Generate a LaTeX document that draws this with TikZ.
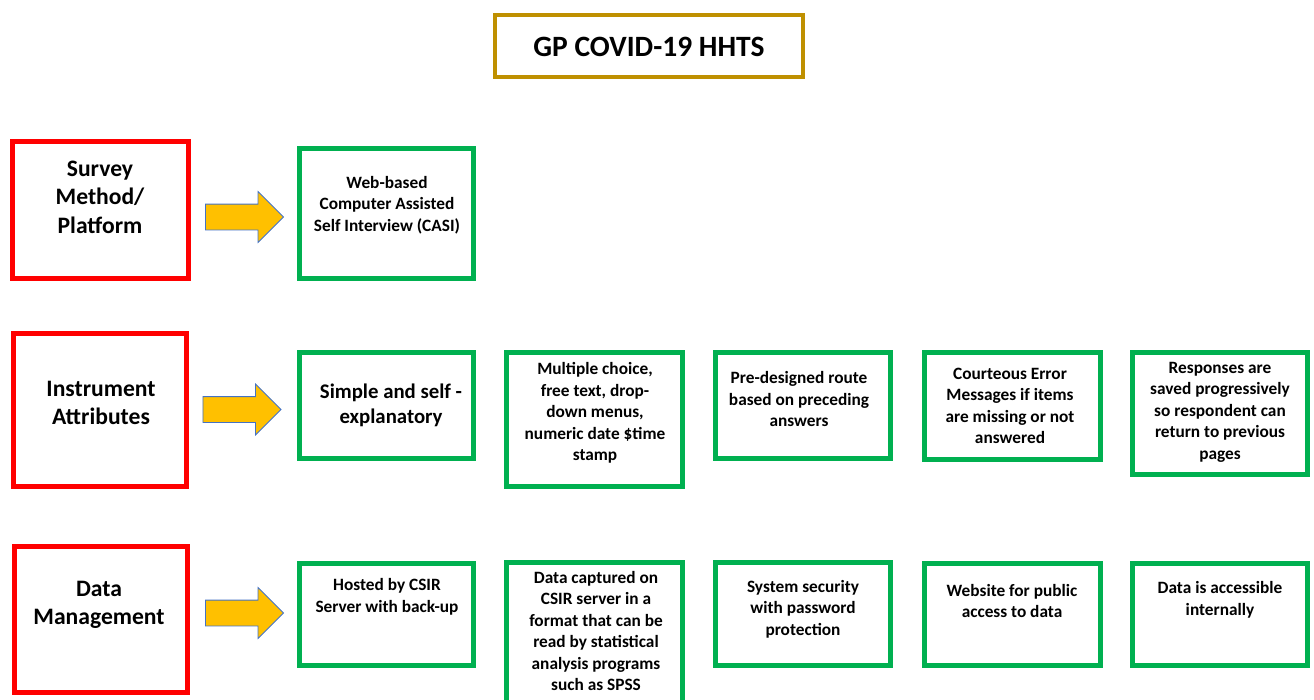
\documentclass[tikz,border=0pt]{standalone}
\usepackage{fontspec}
\setmainfont{Carlito}
\usetikzlibrary{shapes.arrows}
\definecolor{redb}{HTML}{FF0000}
\definecolor{greenb}{HTML}{00B050}
\definecolor{goldb}{HTML}{BF9000}
\definecolor{arrowfill}{HTML}{FFC000}
\definecolor{arrowline}{HTML}{4472C4}
\tikzset{
  redbox/.style={draw=redb, line width=5pt, inner sep=0pt, rectangle},
  greenbox/.style={draw=greenb, line width=5pt, inner sep=0pt, rectangle},
  titlebox/.style={draw=goldb, line width=4pt, inner sep=0pt, rectangle},
  bigarrow/.style={single arrow, draw=arrowline, line width=0.8pt, fill=arrowfill,
     minimum height=78pt, single arrow head extend=12.5pt, inner xsep=0pt, inner ysep=12.5pt, single arrow tip angle=90},
  headtxt/.style={align=center, font=\bfseries\fontsize{23.6}{28.5}\selectfont, inner sep=0pt},
  midtxt/.style={align=center, font=\bfseries\fontsize{20.8}{25}\selectfont, inner sep=0pt},
  smalltxt/.style={align=center, font=\bfseries\fontsize{17.3}{21.5}\selectfont, inner sep=0pt},
}
\begin{document}
\begin{tikzpicture}[x=1pt,y=-1pt]
\useasboundingbox (0,0) rectangle (1314,699);
% title
\node[titlebox, minimum width=308pt, minimum height=62pt] (title) at (649,46) {};
\node[inner sep=0pt, font=\bfseries\fontsize{29.5}{34}\selectfont] (titletxt) at (649,47) {GP COVID-19 HHTS};
% row 1
\node[redbox, minimum width=176pt, minimum height=137pt] (r1) at (100.5,210) {};
\node[headtxt] (r1t) at (100,197) {Survey\\Method/\\Platform};
\node[bigarrow] (a1) at (238,217) {};
\node[greenbox, minimum width=174pt, minimum height=130pt] (g11) at (386.5,213.5) {};
\node[smalltxt] (g11t) at (387,205) {Web-based\\Computer Assisted\\Self Interview (CASI)};
% row 2
\node[redbox, minimum width=173pt, minimum height=153pt] (r2) at (100,410) {};
\node[headtxt] (r2t) at (101,403) {Instrument\\Attributes};
\node[bigarrow] (a2) at (235.5,409.5) {};
\node[greenbox, minimum width=174pt, minimum height=106pt] (g21) at (386.5,405.5) {};
\node[midtxt] (g21t) at (391,405) {Simple and self -\\explanatory};
\node[greenbox, minimum width=176pt, minimum height=134pt] (g22) at (594.5,419.5) {};
\node[smalltxt] (g22t) at (595,413) {Multiple choice,\\free text, drop-\\down menus,\\numeric date \$time\\stamp};
\node[greenbox, minimum width=175pt, minimum height=106pt] (g23) at (803,405.5) {};
\node[smalltxt] (g23t) at (799,399) {Pre-designed route\\based on preceding\\answers};
\node[greenbox, minimum width=176pt, minimum height=107pt] (g24) at (1012.5,406) {};
\node[smalltxt] (g24t) at (1010,406) {Courteous Error\\Messages if items\\are missing or not\\answered};
\node[greenbox, minimum width=175pt, minimum height=122pt] (g25) at (1220,413.5) {};
\node[smalltxt] (g25t) at (1220,412) {Responses are\\saved progressively\\so respondent can\\return to previous\\pages};
% row 3
\node[redbox, minimum width=173pt, minimum height=146pt] (r3) at (101,619.5) {};
\node[headtxt] (r3t) at (99,605) {Data\\Management};
\node[bigarrow] (a3) at (238,613) {};
\node[greenbox, minimum width=174pt, minimum height=102pt] (g31) at (386.5,614.5) {};
\node[smalltxt] (g31t) at (387,597) {Hosted by CSIR\\Server with back-up};
\node[greenbox, minimum width=176pt, minimum height=145pt] (g32) at (594.5,635) {};
\node[smalltxt] (g32t) at (596,631) {Data captured on\\CSIR server in a\\format that can be\\read by statistical\\analysis programs\\such as SPSS};
\node[greenbox, minimum width=175pt, minimum height=103pt] (g33) at (803,614) {};
\node[smalltxt] (g33t) at (803,609) {System security\\with password\\protection};
\node[greenbox, minimum width=176pt, minimum height=102pt] (g34) at (1012.5,614.5) {};
\node[smalltxt] (g34t) at (1012,601) {Website for public\\access to data};
\node[greenbox, minimum width=175pt, minimum height=102pt] (g35) at (1220,614.5) {};
\node[smalltxt] (g35t) at (1220,600) {Data is accessible\\internally};
\end{tikzpicture}
\end{document}
